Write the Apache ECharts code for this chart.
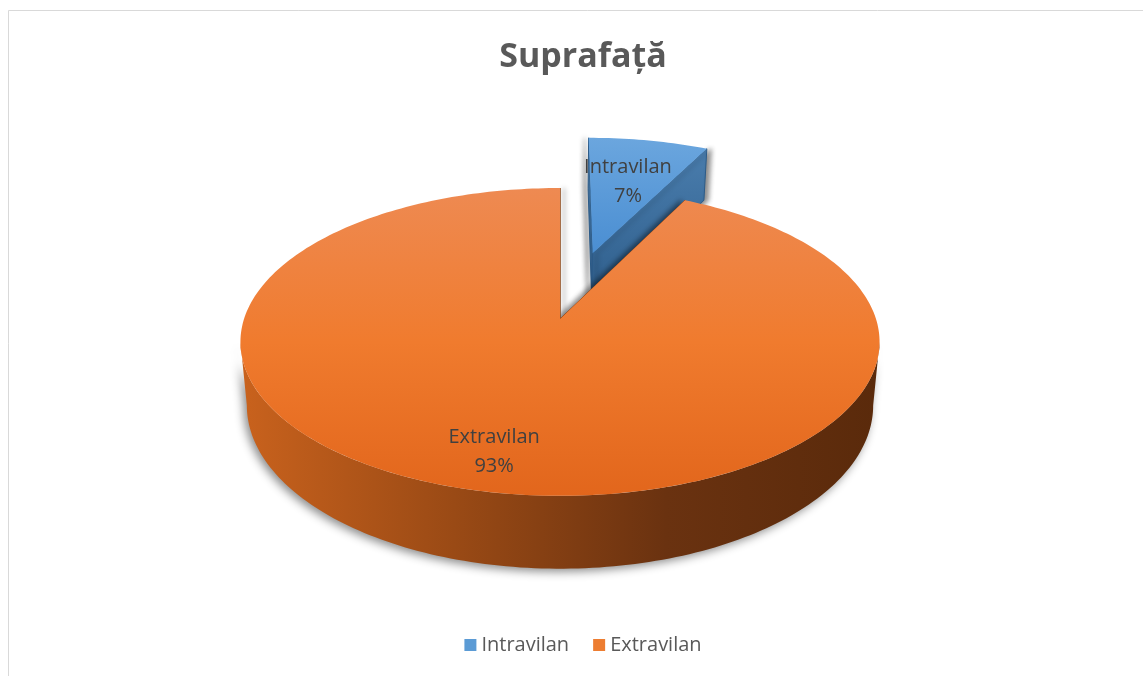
<!DOCTYPE html>
<html>
<head>
<meta charset="utf-8">
<script src="https://cdn.jsdelivr.net/npm/echarts@6/dist/echarts.min.js"></script>
<style>
  html, body { margin: 0; padding: 0; background: #fff; overflow: hidden; }
  #chart { width: 1166px; height: 676px; }
</style>
</head>
<body>
<div id="chart"></div>
<script>
// data (share of total area; labels round to 7% / 93%)
const categories = ['Intravilan', 'Extravilan'];
const values = [7.4, 92.6];

// look of each slice (kept apart from the data)
const explode = [0.48, 0];
const labelRadius = [0.6, 0.8];
const palette = [
  { legend: '#5b9bd5', top: ['#6ba6de', '#4a8ed2'], wall: ['#3f73a4', '#2d5b87'], face: ['#4a7dad', '#2c5b88'] },
  { legend: '#ed7d31', top: ['#ee8a52', '#f07b2e', '#e2661c'], wall: ['#c9621d', '#9a4a15', '#6a3210', '#5a2a0b'], face: ['#b85a1c', '#8a4212'] }
];
const FONT = '"Open Sans", "Noto Sans", sans-serif';

// simple perspective projection of a tilted disc
const CX = 560, CY = 319, RX = 316, RY = 150.5, DEPTH = 62, P = 0.149;
function proj(X, Z, h) {
  const w = 1 / (1 + P * Z);
  return [CX + RX * X * w * (1 - 0.02 * h), CY - RY * Z * w + DEPTH * h * w];
}

const total = values.reduce((a, b) => a + b, 0);

function grad(stops, vertical) {
  const n = stops.length - 1;
  return new echarts.graphic.LinearGradient(0, 0, vertical ? 0 : 1, vertical ? 1 : 0,
    stops.map((c, k) => ({ offset: k / n, color: c })));
}

function renderSlice(i, value) {
  let before = 0;
  for (let k = 0; k < i; k++) before += values[k];
  const a0 = before / total * Math.PI * 2;
  const a1 = a0 + value / total * Math.PI * 2;
  const mid = (a0 + a1) / 2;
  const ox = explode[i] * Math.sin(mid), oz = explode[i] * Math.cos(mid);
  const pt = (a, r, h) => proj(ox + r * Math.sin(a), oz + r * Math.cos(a), h);
  const arc = (s, e, h) => {
    const out = [];
    const n = Math.max(4, Math.ceil((e - s) / 0.02));
    for (let k = 0; k <= n; k++) out.push(pt(s + (e - s) * k / n, 1, h));
    return out;
  };
  const pal = palette[i];
  const children = [];

  // radial cut faces (thin edge shadow into the gap)
  [[a0, -4], [a1, 4]].forEach(([a, sx]) => {
    children.push({
      type: 'polygon', z2: 2,
      shape: { points: [pt(a, 0, 0), pt(a, 1, 0), pt(a, 1, 1), pt(a, 0, 1)] },
      style: {
        fill: grad(pal.face, true), stroke: pal.face[1], lineWidth: 1,
        shadowBlur: 5, shadowColor: 'rgba(0,0,0,0.45)', shadowOffsetX: sx
      }
    });
  });

  // outer wall, only the part turned to the viewer
  const lim = Math.acos(-P);
  const w0 = Math.max(a0, lim), w1 = Math.min(a1, Math.PI * 2 - lim);
  if (w1 > w0) {
    const pts = arc(w0, w1, 0).concat(arc(w0, w1, 1).reverse());
    children.push({
      type: 'polygon', z2: 3,
      shape: { points: pts },
      style: {
        fill: grad(pal.wall, false),
        shadowBlur: 10, shadowColor: 'rgba(0,0,0,0.45)', shadowOffsetX: -3, shadowOffsetY: 3
      }
    });
  }

  // top face
  children.push({
    type: 'polygon', z2: 10,
    shape: { points: [pt(0, 0, 0)].concat(arc(a0, a1, 0)) },
    style: { fill: grad(pal.top, true) }
  });

  // label
  const lp = pt(mid, labelRadius[i], 0);
  children.push({
    type: 'text', z2: 20,
    style: {
      text: categories[i] + '\n' + Math.round(value / total * 100) + '%',
      x: lp[0], y: lp[1], align: 'center', verticalAlign: 'middle',
      fill: '#404040', fontSize: 20, fontFamily: FONT, lineHeight: 29
    }
  });

  return { type: 'group', children };
}

const chart = echarts.init(document.getElementById('chart'));
chart.setOption({
  animation: false,
  backgroundColor: '#fff',
  title: {
    text: 'Suprafață',
    left: 'center', top: 35,
    textStyle: { fontSize: 34, fontWeight: 'bold', color: '#595959', fontFamily: FONT }
  },
  legend: {
    top: 630, left: 'center',
    icon: 'rect', itemWidth: 12, itemHeight: 12, itemGap: 24,
    textStyle: { fontSize: 20, color: '#595959', fontFamily: FONT },
    data: categories
  },
  graphic: [{
    type: 'rect', silent: true,
    shape: { x: 8.5, y: 10.5, width: 1160, height: 700 },
    style: { fill: 'none', stroke: '#d9d9d9', lineWidth: 1 }
  }],
  series: categories.map((name, i) => ({
    type: 'custom',
    name,
    coordinateSystem: 'none',
    itemStyle: { color: palette[i].legend },
    data: [values[i]],
    renderItem: (params, api) => renderSlice(i, api.value(0))
  }))
});
</script>
</body>
</html>
